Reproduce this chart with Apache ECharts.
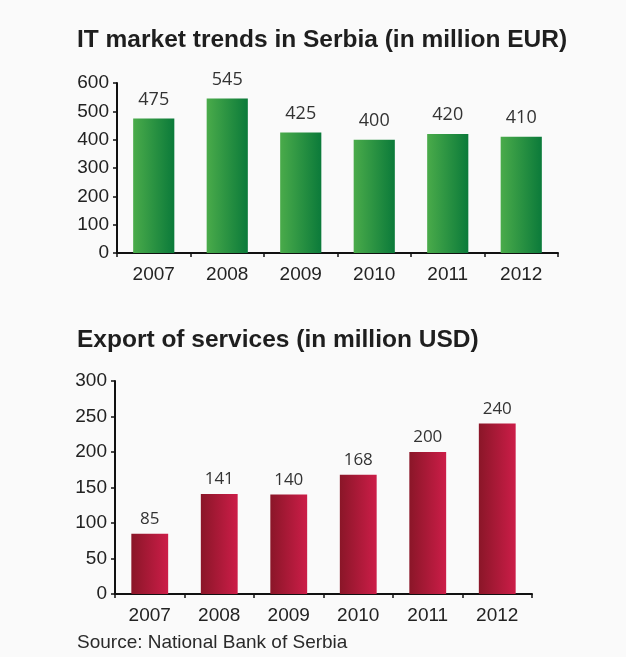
<!DOCTYPE html>
<html>
<head>
<meta charset="utf-8">
<script src="https://cdn.jsdelivr.net/npm/echarts@6/dist/echarts.min.js"></script>
<style>
  html, body { margin: 0; padding: 0; background: #fafafa; }
  #chart { width: 626px; height: 657px; }
</style>
</head>
<body>
<div id="chart"></div>
<script>
// Years shared by both panels
const years = ['2007', '2008', '2009', '2010', '2011', '2012'];

// IT market, million EUR
const itMarket = [475, 545, 425, 400, 420, 410];
const itTicks = [0, 100, 200, 300, 400, 500, 600];

// Export of services, million USD
const serviceExports = [85, 141, 140, 168, 200, 240];
const exportTicks = [0, 50, 100, 150, 200, 250, 300];

const axisFont = 'Liberation Sans, Arial, sans-serif';
const valueFont = 'Open Sans, sans-serif';

function hGrad(from, to) {
  return new echarts.graphic.LinearGradient(0, 0, 1, 0, [
    { offset: 0, color: from },
    { offset: 1, color: to }
  ]);
}

function xAxisCfg(gridIndex) {
  return {
    type: 'category',
    gridIndex: gridIndex,
    data: years,
    axisLine: { lineStyle: { color: '#111', width: 2 } },
    axisTick: { show: true, length: 4, lineStyle: { color: '#111', width: 1.5 } },
    axisLabel: { color: '#222', fontSize: 19, fontFamily: axisFont, margin: 12 }
  };
}

function yAxisCfg(gridIndex, ticks) {
  const step = ticks[1] - ticks[0];
  return {
    type: 'value',
    gridIndex: gridIndex,
    min: ticks[0],
    max: ticks[ticks.length - 1],
    interval: step,
    splitLine: { show: false },
    axisLine: { show: true, lineStyle: { color: '#111', width: 2 } },
    axisTick: { show: true, length: 4, lineStyle: { color: '#111', width: 1.5 } },
    axisLabel: { color: '#222', fontSize: 19, fontFamily: axisFont, margin: 8 }
  };
}

const chart = echarts.init(document.getElementById('chart'), null, { renderer: 'canvas' });

chart.setOption({
  backgroundColor: '#fafafa',
  animation: false,
  title: [
    {
      text: 'IT market trends in Serbia (in million EUR)',
      left: 77, top: 28, padding: 0,
      textStyle: { fontFamily: axisFont, fontWeight: 'bold', fontSize: 24.5, color: '#1e1e1e' }
    },
    {
      text: 'Export of services (in million USD)',
      left: 77, top: 328, padding: 0,
      textStyle: { fontFamily: axisFont, fontWeight: 'bold', fontSize: 24.5, color: '#1e1e1e' }
    },
    {
      text: 'Source: National Bank of Serbia',
      left: 77, top: 633, padding: 0,
      textStyle: { fontFamily: axisFont, fontWeight: 'normal', fontSize: 19, color: '#2a2a2a' }
    }
  ],
  grid: [
    { left: 117, right: 68, top: 83, height: 170 },
    { left: 115, right: 94, top: 381, height: 213 }
  ],
  xAxis: [xAxisCfg(0), xAxisCfg(1)],
  yAxis: [yAxisCfg(0, itTicks), yAxisCfg(1, exportTicks)],
  series: [
    {
      type: 'bar',
      xAxisIndex: 0,
      yAxisIndex: 0,
      data: itMarket,
      barCategoryGap: '44%',
      itemStyle: { color: hGrad('#4aab4a', '#0b7a3a') },
      label: {
        show: true, position: 'top', distance: 10,
        color: '#333', fontSize: 18, fontFamily: valueFont
      }
    },
    {
      type: 'bar',
      xAxisIndex: 1,
      yAxisIndex: 1,
      data: serviceExports,
      barCategoryGap: '47%',
      itemStyle: { color: hGrad('#8a1628', '#cc1d48') },
      label: {
        show: true, position: 'top', distance: 6,
        color: '#333', fontSize: 17, fontFamily: valueFont
      }
    }
  ]
});
</script>
</body>
</html>
